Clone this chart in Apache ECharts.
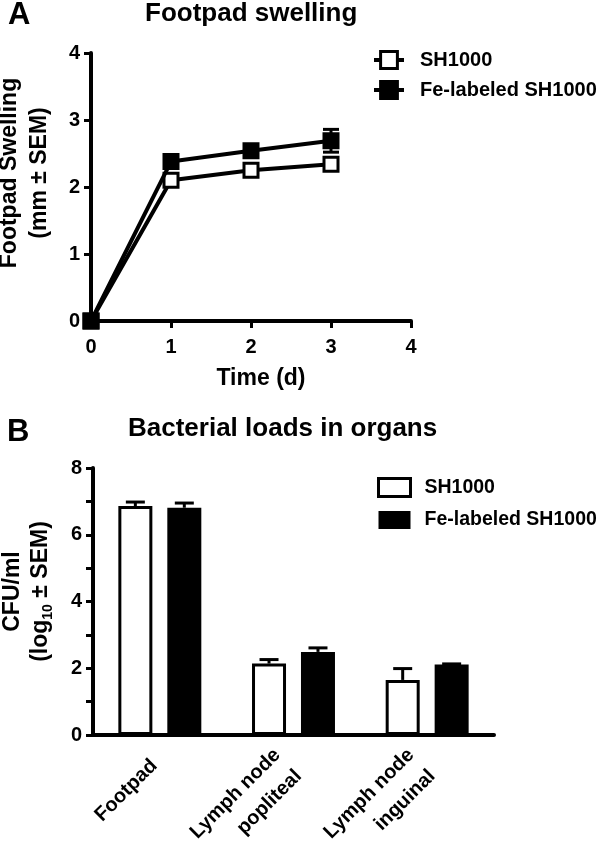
<!DOCTYPE html>
<html><head><meta charset="utf-8">
<script src="https://cdn.jsdelivr.net/npm/echarts@6/dist/echarts.min.js"></script>
<style>html,body{margin:0;padding:0;background:#fff}#c{width:600px;height:846px}</style>
</head><body><div id="c"></div>
<script>
// ---- data ----
const seriesNames = ['SH1000', 'Fe-labeled SH1000'];
const days = [0, 1, 2, 3];
const swellSH = [0, 2.10, 2.25, 2.34];
const swellSHErr = [0.04, 0.06, 0.06, 0.07];
const swellFe = [0, 2.38, 2.54, 2.69];
const swellFeErr = [0.04, 0.06, 0.07, 0.17];
const organs = ['Footpad', 'Lymph node\npopliteal', 'Lymph node\ninguinal'];
const cfuSH = [6.86, 2.14, 1.65];
const cfuSHErr = [0.12, 0.12, 0.34];
const cfuFe = [6.81, 2.49, 2.11];
const cfuFeErr = [0.14, 0.12, 0.02];

const FONT = '"Liberation Sans", Arial, Helvetica, sans-serif';
const BAR_W = 34, BAR_GAP = 0.44;
const barOffset = BAR_W * (1 + BAR_GAP) / 2;

function errA(params, api) {
  const x = api.value(0), y = api.value(1), e = api.value(2);
  const hi = api.coord([x, y + e]), lo = api.coord([x, y - e]);
  const w = 8, st = { stroke: '#000', lineWidth: 3 };
  return { type: 'group', children: [
    { type: 'line', shape: { x1: hi[0], y1: hi[1], x2: lo[0], y2: lo[1] }, style: st },
    { type: 'line', shape: { x1: hi[0] - w, y1: hi[1], x2: hi[0] + w, y2: hi[1] }, style: st },
    { type: 'line', shape: { x1: lo[0] - w, y1: lo[1], x2: lo[0] + w, y2: lo[1] }, style: st }
  ]};
}
function errB(sign) {
  return function (params, api) {
    const c = api.value(0), y = api.value(1), e = api.value(2);
    const top = api.coord([c, y + e]), base = api.coord([c, y]);
    const x = top[0] + sign * barOffset, w = 9.5, st = { stroke: '#000', lineWidth: 3 };
    return { type: 'group', children: [
      { type: 'line', shape: { x1: x, y1: base[1], x2: x, y2: top[1] }, style: st },
      { type: 'line', shape: { x1: x - w, y1: top[1], x2: x + w, y2: top[1] }, style: st }
    ]};
  };
}

const axisLine = { lineStyle: { color: '#000', width: 4 } };
const axisTick = { length: 7, lineStyle: { color: '#000', width: 3 } };
const tickLabel = { color: '#000', fontFamily: FONT, fontWeight: 'bold', fontSize: 20 };
const nameStyle = { color: '#000', fontFamily: FONT, fontWeight: 'bold', fontSize: 23 };
const titleStyle = { fontFamily: FONT, fontWeight: 'bold', fontSize: 26, color: '#000' };
const letterStyle = { fontFamily: FONT, fontWeight: 'bold', fontSize: 31, color: '#000' };
const legendText = { fontFamily: FONT, fontWeight: 'bold', color: '#000' };

const chart = echarts.init(document.getElementById('c'), null, { renderer: 'canvas' });
chart.setOption({
  backgroundColor: '#fff',
  animation: false,
  title: [
    { text: 'A', left: 8, top: 0, padding: 0, textStyle: letterStyle },
    { text: 'Footpad swelling', left: 145, top: 1, padding: 0, textStyle: titleStyle },
    { text: 'B', left: 7, top: 417, padding: 0, textStyle: letterStyle },
    { text: 'Bacterial loads in organs', left: 128, top: 416, padding: 0, textStyle: titleStyle }
  ],
  legend: [
    { orient: 'vertical', left: 372, top: 50, padding: 0, itemWidth: 30, itemHeight: 21, itemGap: 10,
      data: [
        { name: seriesNames[0], itemStyle: { color: '#fff', borderColor: '#000', borderWidth: 3 }, lineStyle: { color: '#000', width: 4 } },
        { name: seriesNames[1], itemStyle: { color: '#000', borderColor: '#000', borderWidth: 3 }, lineStyle: { color: '#000', width: 4 } }
      ],
      textStyle: Object.assign({ fontSize: 20, padding: [0, 0, 0, 11] }, legendText) },
    { orient: 'vertical', left: 377, top: 477, padding: 0, itemWidth: 32, itemHeight: 18, itemGap: 12,
      data: [
        { name: seriesNames[0], icon: 'rect', itemStyle: { color: '#fff', borderColor: '#000', borderWidth: 3 } },
        { name: seriesNames[1], icon: 'rect', itemStyle: { color: '#000', borderColor: '#000', borderWidth: 0 } }
      ],
      textStyle: Object.assign({ fontSize: 19.5, padding: [0, 0, 0, 9] }, legendText) }
  ],
  grid: [
    { left: 91, top: 53, width: 320, height: 268, containLabel: false, outerBoundsMode: 'none' },
    { left: 93, top: 468, width: 401, height: 267, containLabel: false, outerBoundsMode: 'none' }
  ],
  xAxis: [
    { gridIndex: 0, type: 'value', min: 0, max: 4, interval: 1,
      axisLine: axisLine, axisTick: axisTick, splitLine: { show: false },
      axisLabel: Object.assign({ margin: 16 }, tickLabel),
      name: 'Time (d)', nameLocation: 'middle', nameGap: 46,
      nameTextStyle: Object.assign({ padding: [0, 0, 0, 20] }, nameStyle) },
    { gridIndex: 1, type: 'category', data: organs, boundaryGap: true,
      axisLine: axisLine, axisTick: { alignWithLabel: true, length: 4, lineStyle: { color: '#000', width: 3 } },
      axisLabel: { rotate: 45, margin: 22, interval: 0, fontSize: 20, lineHeight: 30, padding: [0, 8, 0, 0],
        color: '#000', fontFamily: FONT, fontWeight: 'bold' } }
  ],
  yAxis: [
    { gridIndex: 0, type: 'value', min: 0, max: 4, interval: 1,
      axisLine: Object.assign({ show: true }, axisLine), axisTick: Object.assign({ show: true }, axisTick), splitLine: { show: false },
      axisLabel: Object.assign({ margin: 11 }, tickLabel),
      name: 'Footpad Swelling\n(mm ± SEM)', nameLocation: 'middle', nameGap: 36,
      nameTextStyle: Object.assign({ lineHeight: 30, padding: [0, 0, 0, 28] }, nameStyle) },
    { gridIndex: 1, type: 'value', min: 0, max: 8, interval: 1,
      axisLine: Object.assign({ show: true }, axisLine), axisTick: Object.assign({ show: true }, axisTick), splitLine: { show: false },
      axisLabel: Object.assign({ margin: 11, formatter: v => (v % 2 === 0 ? String(v) : '') }, tickLabel),
      name: '{a|CFU/ml}\n{a|(log}{s|10}{a| ± SEM)}', nameLocation: 'middle', nameGap: 38,
      nameTextStyle: Object.assign({ padding: [0, 0, 0, 20],
        rich: {
          a: { fontFamily: FONT, fontWeight: 'bold', fontSize: 23, color: '#000', lineHeight: 28 },
          s: { fontFamily: FONT, fontWeight: 'bold', fontSize: 14, color: '#000', lineHeight: 28, verticalAlign: 'bottom', padding: [8, 0, 0, 0] }
        } }, nameStyle) }
  ],
  series: [
    { type: 'custom', name: 'errSH', xAxisIndex: 0, yAxisIndex: 0, z: 1, renderItem: errA,
      data: days.map((d, i) => [d, swellSH[i], swellSHErr[i]]), silent: true },
    { type: 'custom', name: 'errFe', xAxisIndex: 0, yAxisIndex: 0, z: 1, renderItem: errA,
      data: days.map((d, i) => [d, swellFe[i], swellFeErr[i]]), silent: true },
    { type: 'line', name: seriesNames[0], xAxisIndex: 0, yAxisIndex: 0, z: 3, clip: false,
      data: days.map((d, i) => [d, swellSH[i]]),
      symbol: 'rect', symbolSize: 14, showAllSymbol: true,
      lineStyle: { color: '#000', width: 4 },
      itemStyle: { color: '#fff', borderColor: '#000', borderWidth: 3 } },
    { type: 'line', name: seriesNames[1], xAxisIndex: 0, yAxisIndex: 0, z: 4, clip: false,
      data: days.map((d, i) => [d, swellFe[i]]),
      symbol: 'rect', symbolSize: 14, showAllSymbol: true,
      lineStyle: { color: '#000', width: 4 },
      itemStyle: { color: '#000', borderColor: '#000', borderWidth: 3 } },
    { type: 'bar', name: seriesNames[0], xAxisIndex: 1, yAxisIndex: 1, data: cfuSH,
      barWidth: BAR_W, barGap: (BAR_GAP * 100) + '%',
      itemStyle: { color: '#fff', borderColor: '#000', borderWidth: 3 } },
    { type: 'bar', name: seriesNames[1], xAxisIndex: 1, yAxisIndex: 1, data: cfuFe,
      barWidth: BAR_W, barGap: (BAR_GAP * 100) + '%',
      itemStyle: { color: '#000' } },
    { type: 'custom', name: 'errBSH', xAxisIndex: 1, yAxisIndex: 1, z: 5, renderItem: errB(-1),
      data: cfuSH.map((v, i) => [i, v, cfuSHErr[i]]), silent: true },
    { type: 'custom', name: 'errBFe', xAxisIndex: 1, yAxisIndex: 1, z: 5, renderItem: errB(1),
      data: cfuFe.map((v, i) => [i, v, cfuFeErr[i]]), silent: true }
  ]
});
</script></body></html>
